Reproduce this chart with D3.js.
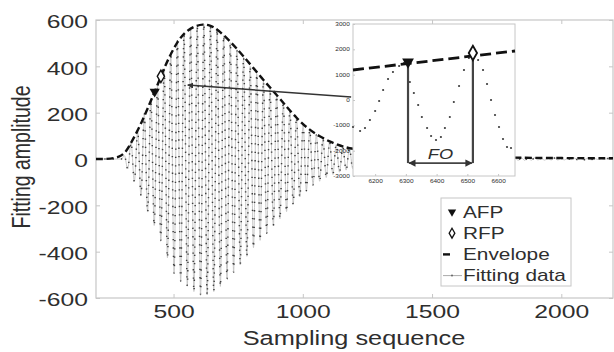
<!DOCTYPE html>
<html>
<head>
<meta charset="utf-8">
<script src="https://cdn.jsdelivr.net/npm/d3@7"></script>
<style>
  body { margin: 0; background: #fff; }
  text { font-family: "Liberation Sans", Arial, Helvetica, sans-serif; fill: #2e2e2e; }
</style>
</head>
<body>
<svg id="chart" width="614" height="352"></svg>
<script>
// ---- values ----
const xTicks = [500, 1000, 1500, 2000];
const yTicks = [-600, -400, -200, 0, 200, 400, 600];

// fitting data: half-cycle extremes, one every 12.8 samples from sample 310
const fitStart = 310;
const halfPeriod = 12.8;
const fitPeaks = [14, -43, 71, -97, 123, -158, 194, -229, 258, -287, 315, -352, 391, -427,
  461, -493, 510, -527, 539, -549, 559, -572, 575, -585, 582, -587, 576, -572, 561, -550,
  532, -518, 502, -488, 472, -457, 439, -420, 400, -383, 367, -351, 335, -320, 303, -288,
  273, -258, 243, -227, 212, -196, 180, -164, 149, -137, 125, -112, 104, -96, 87, -80,
  74, -67, 62, -57, 52, -48, 45, -42, 40];
// small ripple that is left after the inset
const tailStart = 1820;
const tailPeaks = [6, -6, 5, -6, 5, -5, 5, -4, 4, -5, 4, -4, 4, -4, 3, -4, 3, -3, 4, -3,
  3, -3, 3, -3, 3, -2, 3, -2, 2, -2];

// upper envelope
const envSample = [200, 300, 331, 370, 408, 435, 466, 501, 530, 555, 585, 613, 640, 670,
  717, 767, 844, 898, 937, 975, 1014, 1064, 1114, 1160, 1200, 1500, 1820, 2000, 2200];
const envValue = [0, 0, 60, 140, 240, 310, 400, 480, 530, 556, 575, 582, 578, 560,
  510, 449, 345, 278, 226, 178, 136, 97, 70, 52, 40, 15, 5, 4, 3];

const afpPoint = [427, 291];
const rfpPoint = [451, 357];
const arrowFrom = [1187, 268];
const arrowTo = [555, 319];

// inset (zoom on two neighbouring peaks)
const insetXTicks = [6200, 6300, 6400, 6500, 6600];
const insetYTicks = [-3000, -2000, -1000, 0, 1000, 2000, 3000];
const insetDotX = [6128, 6151, 6167, 6183, 6200, 6213, 6226, 6242, 6258, 6278, 6294,
  6313, 6326, 6340, 6352, 6369, 6382, 6398, 6414, 6427, 6443, 6456, 6473, 6489, 6505,
  6518, 6535, 6551, 6564, 6577, 6590, 6603, 6616, 6629, 6642];
const insetDotY = [-1066, -1224, -1105, -789, -434, -39, 395, 829, 1105, 1342, 1460,
  710, 276, -197, -671, -1105, -1421, -1579, -1460, -1105, -671, -79, 553, 1184, 1658,
  1855, 1579, 1184, 632, 0, -592, -1066, -1539, -1855, -1895];
const insetEnv = [[6128, 1184], [6655, 1934]];
const insetAFP = [6307, 1500];
const insetRFP = [6518, 1855];
const foLevel = -2490;

const legendItems = ["AFP", "RFP", "Envelope", "Fitting data"];

// ---- layout ----
const svg = d3.select("#chart");
const plot = { left: 96, right: 613, top: 20, bottom: 298 };
const ins = { left: 353, right: 515, top: 24, bottom: 176 };
const stretch = "scale(1.3,1)";   // the source picture is widened
const plain = d => String(d);

const x = d3.scaleLinear().domain([200, 2200]).range([plot.left, plot.right]);
const y = d3.scaleLinear().domain([-600, 600]).range([plot.bottom, plot.top]);

const defs = svg.append("defs");
defs.append("clipPath").attr("id", "clip")
  .append("rect").attr("x", plot.left).attr("y", plot.top)
  .attr("width", plot.right - plot.left).attr("height", plot.bottom - plot.top);
defs.append("marker").attr("id", "head").attr("viewBox", "0 0 10 10")
  .attr("refX", 9).attr("refY", 5).attr("markerWidth", 4).attr("markerHeight", 4)
  .attr("orient", "auto-start-reverse")
  .append("path").attr("d", "M0,0L10,5L0,10z").attr("fill", "#333");

// axes box + inward ticks
svg.append("rect").attr("x", plot.left).attr("y", plot.top)
  .attr("width", plot.right - plot.left).attr("height", plot.bottom - plot.top)
  .attr("fill", "#fff").attr("stroke", "#c6c6c6").attr("stroke-width", 1.2);

function styleAxis(g) {
  g.select(".domain").remove();
  g.selectAll(".tick line").attr("stroke", "#c6c6c6");
  g.selectAll("text").attr("font-size", 19).attr("fill", "#2e2e2e");
}

svg.append("g").attr("transform", `translate(0,${plot.bottom})`)
  .call(d3.axisBottom(x).tickValues(xTicks).tickFormat(plain)
    .tickSizeInner(-4).tickSizeOuter(0).tickPadding(6.5))
  .call(styleAxis)
  .selectAll("text").attr("transform", stretch);
svg.append("g").attr("transform", `translate(0,${plot.top})`)
  .call(d3.axisTop(x).tickValues(xTicks).tickSizeInner(-4).tickSizeOuter(0).tickFormat(""))
  .call(styleAxis);
svg.append("g").attr("transform", `translate(${plot.left},0)`)
  .call(d3.axisLeft(y).tickValues(yTicks).tickFormat(plain)
    .tickSizeInner(-4).tickSizeOuter(0).tickPadding(6.2))
  .call(styleAxis)
  .selectAll("text").attr("dy", "0.42em").attr("transform", stretch);
svg.append("g").attr("transform", `translate(${plot.right},0)`)
  .call(d3.axisRight(y).tickValues(yTicks).tickSizeInner(-4).tickSizeOuter(0).tickFormat(""))
  .call(styleAxis);

svg.append("text").attr("transform", `translate(354,345) ${stretch}`)
  .attr("text-anchor", "middle").attr("font-size", 19.5).text("Sampling sequence");
svg.append("text").attr("transform", `translate(30,157) ${stretch} rotate(-90)`)
  .attr("text-anchor", "middle").attr("font-size", 19.5).text("Fitting amplitude");

// ---- main series ----
const fitData = [[200, 0], [298, 0]]
  .concat(fitPeaks.map((v, i) => [fitStart + i * halfPeriod, v]))
  .concat(tailPeaks.map((v, i) => [tailStart + i * halfPeriod, v]))
  .concat([[2210, 0]]);
const envData = envSample.map((s, i) => [s, envValue[i]]);

const line = d3.line().x(d => x(d[0])).y(d => y(d[1])).curve(d3.curveMonotoneX);
const smooth = d3.line().x(d => x(d[0])).y(d => y(d[1])).curve(d3.curveBasis);
const main = svg.append("g").attr("clip-path", "url(#clip)");

main.append("path").datum(fitData).attr("d", line)
  .attr("fill", "none").attr("stroke", "#c2c2c2").attr("stroke-width", 0.9);
main.append("path").datum(fitData).attr("d", line)
  .attr("fill", "none").attr("stroke", "#404040").attr("stroke-width", 1.5)
  .attr("stroke-dasharray", "1.3,7");
main.append("path").datum(envData).attr("d", smooth)
  .attr("fill", "none").attr("stroke", "#111").attr("stroke-width", 2.4)
  .attr("stroke-dasharray", "7,3.5");

const triDown = d3.symbol().type(d3.symbolTriangle);
const diamond = d3.symbol().type(d3.symbolDiamond);

main.append("path").attr("d", triDown.size(45)())
  .attr("transform", `translate(${x(afpPoint[0])},${y(afpPoint[1])}) rotate(180)`)
  .attr("fill", "#111");
main.append("path").attr("d", diamond.size(45)())
  .attr("transform", `translate(${x(rfpPoint[0])},${y(rfpPoint[1])})`)
  .attr("fill", "#fff").attr("stroke", "#111").attr("stroke-width", 1.4);

svg.append("line")
  .attr("x1", x(arrowFrom[0])).attr("y1", y(arrowFrom[1]))
  .attr("x2", x(arrowTo[0])).attr("y2", y(arrowTo[1]))
  .attr("stroke", "#333").attr("stroke-width", 1.5).attr("marker-end", "url(#head)");

// ---- inset ----
const ix = d3.scaleLinear().domain([6128, 6655]).range([ins.left, ins.right]);
const iy = d3.scaleLinear().domain([-3000, 3000]).range([ins.bottom, ins.top]);
const inset = svg.append("g");

inset.append("rect").attr("x", ins.left).attr("y", ins.top)
  .attr("width", ins.right - ins.left).attr("height", ins.bottom - ins.top)
  .attr("fill", "#fff").attr("stroke", "#c6c6c6").attr("stroke-width", 1);

function styleInsetAxis(g) {
  g.select(".domain").remove();
  g.selectAll(".tick line").attr("stroke", "#c6c6c6");
  g.selectAll("text").attr("font-size", 5).attr("fill", "#8a8a8a");
}
inset.append("g").attr("transform", `translate(0,${ins.bottom})`)
  .call(d3.axisBottom(ix).tickValues(insetXTicks).tickFormat(plain)
    .tickSizeInner(-2).tickSizeOuter(0).tickPadding(3))
  .call(styleInsetAxis)
  .selectAll("text").attr("transform", stretch);
inset.append("g").attr("transform", `translate(${ins.left},0)`)
  .call(d3.axisLeft(iy).tickValues(insetYTicks).tickFormat(plain)
    .tickSizeInner(-2).tickSizeOuter(0).tickPadding(2.5))
  .call(styleInsetAxis)
  .selectAll("text").attr("transform", stretch);

inset.selectAll("circle.dot")
  .data(insetDotX.map((v, i) => [v, insetDotY[i]]))
  .join("circle").attr("class", "dot")
  .attr("cx", d => ix(d[0])).attr("cy", d => iy(d[1])).attr("r", 1.1)
  .attr("fill", "#3c3c3c");

inset.append("path").datum(insetEnv)
  .attr("d", d3.line().x(d => ix(d[0])).y(d => iy(d[1])))
  .attr("fill", "none").attr("stroke", "#111").attr("stroke-width", 2.8)
  .attr("stroke-dasharray", "11,5");

[insetAFP, insetRFP].forEach(p => {
  inset.append("line")
    .attr("x1", ix(p[0])).attr("x2", ix(p[0]))
    .attr("y1", iy(p[1])).attr("y2", iy(foLevel))
    .attr("stroke", "#444").attr("stroke-width", 2.2);
});
inset.append("line")
  .attr("x1", ix(insetAFP[0]) + 1).attr("x2", ix(insetRFP[0]) - 1)
  .attr("y1", iy(foLevel)).attr("y2", iy(foLevel))
  .attr("stroke", "#444").attr("stroke-width", 1.8)
  .attr("marker-start", "url(#head)").attr("marker-end", "url(#head)");
inset.append("text")
  .attr("transform", `translate(${(ix(insetAFP[0]) + ix(insetRFP[0])) / 2},${iy(foLevel) - 4}) ${stretch}`)
  .attr("text-anchor", "middle").attr("font-size", 14).attr("font-style", "italic")
  .text("FO");

inset.append("path").attr("d", triDown.size(60)())
  .attr("transform", `translate(${ix(insetAFP[0])},${iy(insetAFP[1])}) rotate(180)`)
  .attr("fill", "#111");
inset.append("path").attr("d", diamond.size(60)())
  .attr("transform", `translate(${ix(insetRFP[0])},${iy(insetRFP[1])})`)
  .attr("fill", "#fff").attr("stroke", "#111").attr("stroke-width", 1.8);

// ---- legend ----
const lg = svg.append("g").attr("transform", "translate(441,198)");
lg.append("rect").attr("width", 130).attr("height", 88)
  .attr("fill", "#fff").attr("stroke", "#c6c6c6").attr("stroke-width", 1);
const rowY = i => 14 + i * 21.2;
lg.selectAll("text").data(legendItems).join("text")
  .attr("transform", (d, i) => `translate(22,${rowY(i) + 5.5}) ${stretch}`)
  .attr("font-size", 16).text(d => d);
lg.append("path").attr("d", triDown.size(30)())
  .attr("transform", `translate(11,${rowY(0)}) rotate(180)`).attr("fill", "#111");
lg.append("path").attr("d", diamond.size(28)())
  .attr("transform", `translate(11,${rowY(1)})`)
  .attr("fill", "#fff").attr("stroke", "#111").attr("stroke-width", 1.3);
lg.append("line").attr("x1", 2).attr("x2", 9).attr("y1", rowY(2)).attr("y2", rowY(2))
  .attr("stroke", "#111").attr("stroke-width", 2.4);
lg.append("line").attr("x1", 2).attr("x2", 21).attr("y1", rowY(3)).attr("y2", rowY(3))
  .attr("stroke", "#aaa").attr("stroke-width", 1);
lg.append("circle").attr("cx", 11).attr("cy", rowY(3)).attr("r", 1).attr("fill", "#666");
</script>
</body>
</html>
